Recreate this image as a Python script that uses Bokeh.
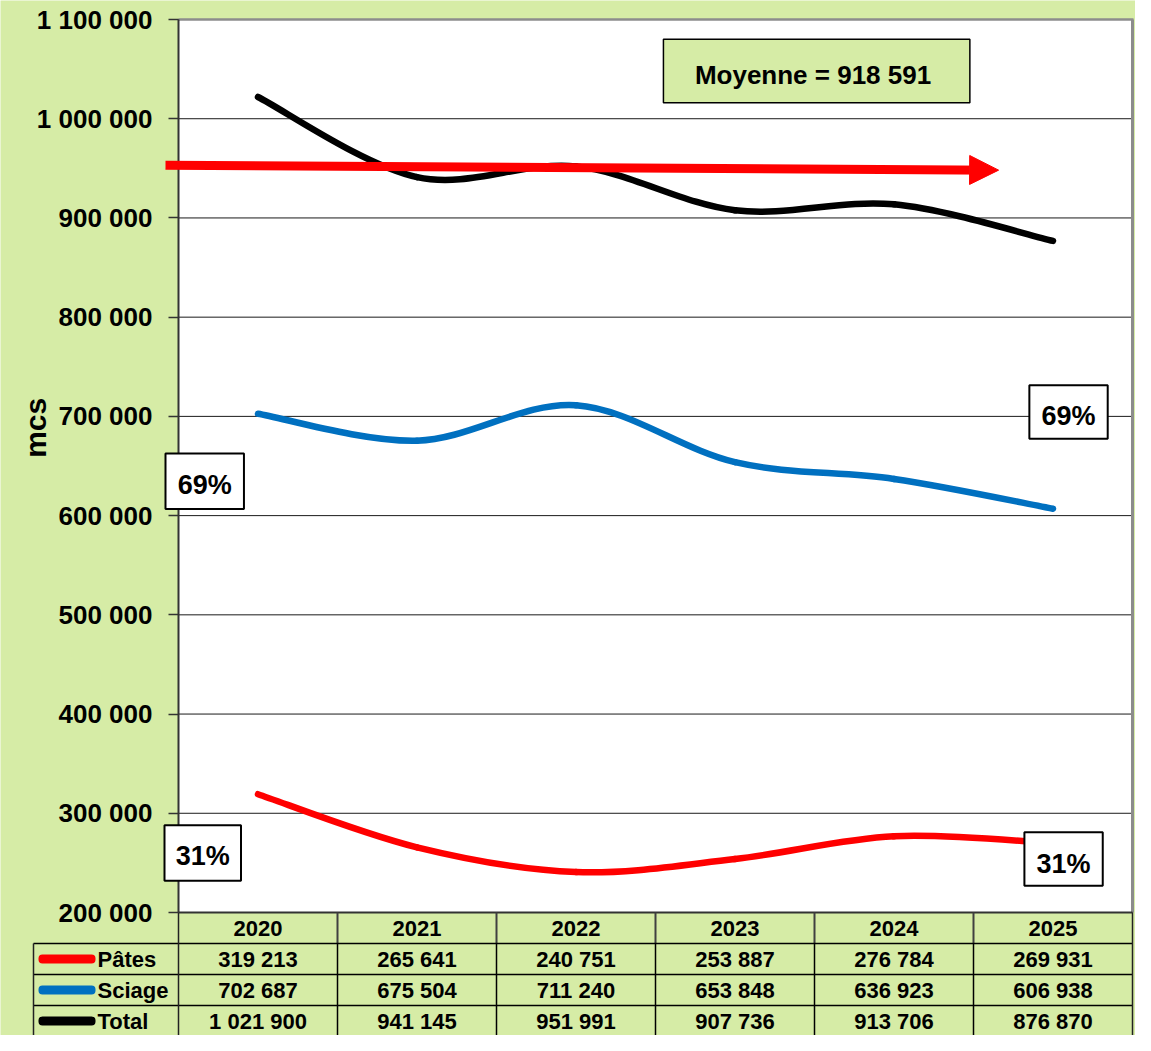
import math
from bokeh.plotting import figure
from bokeh.models import Range1d, FixedTicker, LinearAxis, BoxAnnotation, Label, Arrow, NormalHead
from bokeh.embed import file_html
from bokeh.resources import INLINE
from bokeh.core.properties import value

# ---------------- data ----------------
years = [2020, 2021, 2022, 2023, 2024, 2025]
pates = [319213, 265641, 240751, 253887, 276784, 269931]
sciage = [702687, 675504, 711240, 653848, 636923, 606938]
total = [1021900, 941145, 951991, 907736, 913706, 876870]
series_names = ["Pâtes", "Sciage", "Total"]
y_ticks = [200000, 300000, 400000, 500000, 600000, 700000, 800000, 900000, 1000000, 1100000]
moyenne = 918591
pct_labels = ["69%", "69%", "31%", "31%"]
y_axis_title = "mcs"

# ---------------- styles / layout ----------------
GREEN = "#d6eca6"
RED = "#ff0000"
BLUE = "#0070c0"
BLACK = "#000000"
FONT = "Liberation Sans"
colors = [RED, BLUE, BLACK]


def fmt(v):
    return f"{v:,}".replace(",", " ")


W, H = 1135, 1035
PX_L, PX_R = 178, 1132          # plot area, canvas pixels
PY_T, PY_B = 19, 912
ROW_EDGES = [912, 943, 974, 1005, 1036]
TBL_L = 33


# reference-pixel -> canvas-pixel helpers (reference is 1151x1051)
def fx(x):
    return x if x <= 178 else 178 + (x - 178) * (PX_R - PX_L) / (1140 - 178)


def fy(y):
    return 19 + (y - 19) * (PY_B - PY_T) / (920 - 19)


ymin, ymax = y_ticks[0], y_ticks[-1]
x_lo, x_hi = years[0] - 0.5, years[-1] + 0.5
xppu = (PX_R - PX_L) / (x_hi - x_lo)
yppu = (PY_B - PY_T) / (ymax - ymin)

p = figure(width=W, height=H,
           x_range=Range1d(x_lo - PX_L / xppu, x_hi + (W - PX_R) / xppu),
           y_range=Range1d(ymin - (H - PY_B) / yppu, ymax + PY_T / yppu),
           output_backend="svg", toolbar_location=None,
           x_axis_location=None, y_axis_location=None,
           min_border_left=0, min_border_right=0, min_border_top=0, min_border_bottom=0,
           background_fill_color=GREEN, border_fill_color=GREEN, outline_line_color=None)
p.extra_x_ranges = {"tx": Range1d(0, W)}
p.extra_y_ranges = {"ty": Range1d(H, 0)}
p.xgrid.visible = False
p.ygrid.visible = False

# white plot area
p.quad(left=[x_lo], right=[x_hi], bottom=[ymin], top=[ymax], fill_color="white",
       line_color=None, level="image")

# horizontal grid lines
p.segment(x0=[x_lo] * len(y_ticks), x1=[x_hi] * len(y_ticks), y0=y_ticks, y1=y_ticks,
          line_color="#1a1a1a", line_width=1, level="underlay")

# y axis
ax = LinearAxis(fixed_location=x_lo)
ax.ticker = FixedTicker(ticks=y_ticks)
ax.bounds = (ymin, ymax)
ax.major_label_overrides = {t: fmt(t) for t in y_ticks}
ax.major_label_text_font = FONT
ax.major_label_text_font_style = "bold"
ax.major_label_text_font_size = "26px"
ax.major_label_text_color = "#000000"
ax.major_tick_out = 10
ax.major_tick_in = 0
ax.minor_tick_line_color = None
ax.axis_line_color = "#333333"
ax.axis_line_width = 2
ax.major_tick_line_color = "#333333"
ax.major_tick_line_width = 1.5
ax.major_label_standoff = 16
p.add_layout(ax, "left")


# smoothed series (Excel-style bezier segments)
def bez(ys):
    n = len(years)
    P = list(zip(years, ys))
    out = {k: [] for k in ["x0", "y0", "x1", "y1", "cx0", "cy0", "cx1", "cy1"]}
    for i in range(n - 1):
        pm = P[i - 1] if i > 0 else P[i]
        a = P[i]
        b = P[i + 1]
        pp = P[i + 2] if i + 2 < n else P[i + 1]
        out["x0"].append(a[0]); out["y0"].append(a[1])
        out["x1"].append(b[0]); out["y1"].append(b[1])
        out["cx0"].append(a[0] + (b[0] - pm[0]) / 6); out["cy0"].append(a[1] + (b[1] - pm[1]) / 6)
        out["cx1"].append(b[0] - (pp[0] - a[0]) / 6); out["cy1"].append(b[1] - (pp[1] - a[1]) / 6)
    return out


for ys, c in zip([pates, sciage, total], colors):
    p.bezier(**bez(ys), line_color=c, line_width=6.5, line_cap="round")

# plot-area border (top / right) and bottom axis line
p.segment(x0=[PX_L], x1=[PX_R + 1], y0=[PY_T], y1=[PY_T], x_range_name="tx", y_range_name="ty",
          line_color="#8c8c8c", line_width=2.5)
p.segment(x0=[PX_R], x1=[PX_R], y0=[PY_T], y1=[PY_B], x_range_name="tx", y_range_name="ty",
          line_color="#8c8c8c", line_width=3)
p.segment(x0=[x_lo], x1=[x_hi], y0=[ymin], y1=[ymin], line_color="#333333", line_width=2)

# ---------------- table ----------------
row_centers = [(ROW_EDGES[i] + ROW_EDGES[i + 1]) / 2 for i in range(4)]
seps = [y + 0.5 for y in years[:-1]]

# header row separators
p.segment(x0=seps, x1=seps, y0=[ROW_EDGES[0]] * 5, y1=[ROW_EDGES[1]] * 5, y_range_name="ty",
          line_color="#404040", line_width=2)
# data-row vertical separators
p.segment(x0=seps, x1=seps, y0=[ROW_EDGES[1]] * 5, y1=[H] * 5, y_range_name="ty",
          line_color=BLACK, line_width=1.5)
# horizontal row lines
p.segment(x0=[TBL_L] * 3, x1=[PX_R] * 3, y0=ROW_EDGES[1:4], y1=ROW_EDGES[1:4],
          x_range_name="tx", y_range_name="ty", line_color=BLACK, line_width=1.5)
# vertical table edges
p.segment(x0=[TBL_L, PX_L, PX_R], x1=[TBL_L, PX_L, PX_R],
          y0=[ROW_EDGES[1], PY_B, PY_B], y1=[H, H, H],
          x_range_name="tx", y_range_name="ty", line_color="#222222", line_width=1.5)

# header years
p.text(x=years, y=[row_centers[0]] * len(years), text=[str(y) for y in years],
       y_range_name="ty", text_font=value(FONT), text_font_style="bold",
       text_font_size="22px", text_align="center", text_baseline="middle", text_color=BLACK)
# values
for r, vals in enumerate([pates, sciage, total]):
    p.text(x=years, y=[row_centers[r + 1]] * len(years), text=[fmt(v) for v in vals],
           y_range_name="ty", text_font=value(FONT), text_font_style="bold",
           text_font_size="22px", text_align="center", text_baseline="middle", text_color=BLACK)

# row headers: legend swatch + name
for r, (name, c) in enumerate(zip(series_names, colors)):
    cy = row_centers[r + 1]
    p.add_layout(BoxAnnotation(left=38, right=95, top=cy - 4.5, bottom=cy + 4.5,
                               x_range_name="tx", y_range_name="ty",
                               fill_color=c, fill_alpha=1, line_color=None, border_radius=4))
    p.add_layout(Label(x=97, y=cy, text=name, x_range_name="tx", y_range_name="ty",
                       text_font=FONT, text_font_style="bold", text_font_size="22px",
                       text_align="left", text_baseline="middle", text_color=BLACK))

# y-axis title
p.add_layout(Label(x=35, y=fy(431), text=y_axis_title, angle=math.pi / 2,
                   x_range_name="tx", y_range_name="ty", text_font=FONT,
                   text_font_style="bold", text_font_size="30px",
                   text_align="center", text_baseline="middle", text_color=BLACK))

# red arrow
p.add_layout(Arrow(x_start=fx(165), y_start=fy(166), x_end=fx(1005), y_end=fy(171),
                   x_range_name="tx", y_range_name="ty",
                   line_color=RED, line_width=9, line_cap="butt",
                   end=NormalHead(size=29, fill_color=RED, line_color=RED, line_width=1)))

# Moyenne box
p.add_layout(BoxAnnotation(left=fx(667), right=fx(976), top=fy(39), bottom=fy(103),
                           x_range_name="tx", y_range_name="ty",
                           fill_color=GREEN, fill_alpha=1, line_color=BLACK, line_alpha=1,
                           line_width=1.5))
p.add_layout(Label(x=fx(821.5), y=fy(75), text=f"Moyenne =  {fmt(moyenne)}",
                   x_range_name="tx", y_range_name="ty", text_font=FONT,
                   text_font_style="bold", text_font_size="26px",
                   text_align="center", text_baseline="middle", text_color=BLACK))

# percentage boxes (reference pixel boxes: left, right, top, bottom)
pct_boxes = [(165, 244, 457, 513), (1036, 1115, 388, 442), (164, 241, 832, 888), (1031, 1110, 839, 893)]
pct_text_y = [489, 419, 863, 871]
for lab, (l, r_, t, b), ty in zip(pct_labels, pct_boxes, pct_text_y):
    p.add_layout(BoxAnnotation(left=fx(l), right=fx(r_), top=fy(t), bottom=fy(b),
                               x_range_name="tx", y_range_name="ty",
                               fill_color="white", fill_alpha=1, line_color=BLACK, line_alpha=1,
                               line_width=2))
    p.add_layout(Label(x=(fx(l) + fx(r_)) / 2, y=fy(ty), text=lab,
                       x_range_name="tx", y_range_name="ty", text_font=FONT,
                       text_font_style="bold", text_font_size="27px",
                       text_align="center", text_baseline="middle", text_color=BLACK))

open("out.html", "w").write(file_html(p, INLINE))
